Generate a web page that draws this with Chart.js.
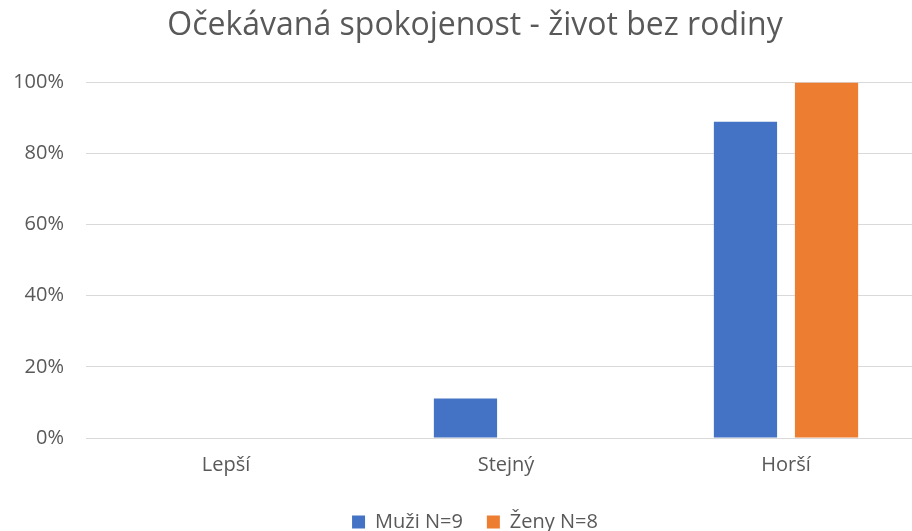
<!DOCTYPE html>
<html>
<head>
<meta charset="utf-8">
<script src="https://cdn.jsdelivr.net/npm/chart.js@4"></script>
<style>
html,body{margin:0;padding:0;background:#fff;overflow:hidden;width:912px;height:531px;}
#wrap{position:absolute;left:0;top:0;width:950px;height:531px;}
</style>
</head>
<body>
<div id="wrap"><canvas id="c" width="950" height="531"></canvas></div>
<script>
const title = "Očekávaná spokojenost - život bez rodiny";
const categories = ["Lepší", "Stejný", "Horší"];
const seriesNames = ["Muži N=9", "Ženy N=8"];
const muzi = [0, 11.1, 88.9];
const zeny = [0, 0, 100];
const yTicks = [0, 20, 40, 60, 80, 100];

const FONT = "'Open Sans', sans-serif";
const GREY = "#595959";

new Chart(document.getElementById("c"), {
  type: "bar",
  data: {
    labels: categories,
    datasets: [
      {label: seriesNames[0], data: muzi, backgroundColor: "#4472C4", categoryPercentage: 0.579, barPercentage: 0.78},
      {label: seriesNames[1], data: zeny, backgroundColor: "#ED7D31", categoryPercentage: 0.579, barPercentage: 0.78}
    ]
  },
  options: {
    responsive: false,
    animation: false,
    layout: {padding: {left: 0, right: 0, top: 5, bottom: -11}},
    plugins: {
      title: {display: true, text: title, color: GREY, font: {family: FONT, size: 32, weight: "normal"}, padding: {top: 2, bottom: 37}},
      legend: {
        position: "bottom",
        labels: {color: GREY, font: {family: FONT, size: 20}, boxWidth: 13, boxHeight: 13, padding: 24}
      },
      tooltip: {enabled: false}
    },
    scales: {
      x: {
        grid: {display: false, drawTicks: false},
        border: {display: true, color: "#d9d9d9"},
        ticks: {color: GREY, font: {family: FONT, size: 20}, padding: 15},
        afterFit: s => { s.height = 50; }
      },
      y: {
        min: 0, max: 100,
        afterBuildTicks: s => { s.ticks = yTicks.map(v => ({value: v})); },
        grid: {color: "#d9d9d9", drawTicks: false},
        border: {display: false},
        ticks: {color: GREY, font: {family: FONT, size: 20}, padding: 22, callback: v => v + "%"},
        afterFit: s => { s.width = 86; }
      },
      yRight: {
        position: "right",
        display: true,
        grid: {display: false, drawTicks: false},
        border: {display: false},
        ticks: {display: false},
        afterFit: s => { s.width = 24; }
      }
    }
  }
});
</script>
</body>
</html>
